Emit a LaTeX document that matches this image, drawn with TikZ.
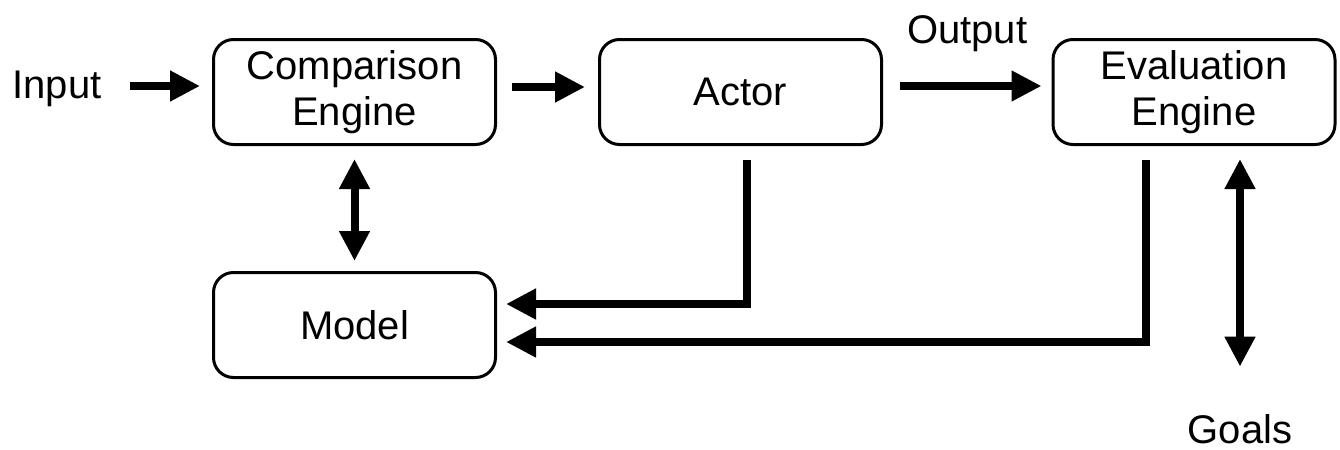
\documentclass[tikz,border=0pt]{standalone}
\usepackage{fontspec}
\setmainfont{Liberation Sans}
\usetikzlibrary{arrows.meta}
\begin{document}
\begin{tikzpicture}[x=0.5pt,y=-0.5pt,
  txt/.style={font=\fontsize{20}{23}\selectfont},
  blk/.style={txt, draw, line width=1.5pt, rounded corners=10pt,
    minimum width=141pt, minimum height=52.5pt, align=center, inner sep=0pt},
  lbl/.style={txt, inner sep=0pt},
  tip/.tip={Triangle[length=15pt,width=14.5pt]},
  conn/.style={line width=4pt, -tip},
  dconn/.style={line width=4pt, tip-tip},
]
\useasboundingbox (0,0) rectangle (1340,450);
\node[blk] (cmp) at (354.5,92) {Comparison\\Engine};
\node[blk] (actor) at (740.5,92) {Actor};
\node[blk] (eval) at (1194,92) {Evaluation\\Engine};
\node[blk] (model) at (354.5,325) {Model};
\node[lbl, anchor=base west] (input) at (12,98) {Input};
\node[lbl, anchor=base] (goals) at (1240,443) {Goals};

\draw[conn, shorten <=14pt, shorten >=6pt]
  ([yshift=3pt]input.east |- cmp.west) -- ([yshift=3pt]cmp.west);
\draw[conn, shorten <=7.5pt, shorten >=6.5pt]
  ([yshift=2.5pt]cmp.east) -- ([yshift=2.5pt]actor.west);
\draw[conn, shorten <=8.5pt, shorten >=5pt]
  ([yshift=3pt]actor.east) -- node[lbl, above=15pt] (output) {Output} ([yshift=3pt]eval.west);
\draw[dconn, shorten <=6.5pt, shorten >=5pt] (cmp.south) -- (model.north);
\draw[conn, shorten <=7pt, shorten >=4.5pt]
  ([xshift=3.25pt]actor.south) |- ([yshift=10.5pt]model.east);
\draw[conn, shorten <=7pt, shorten >=4.5pt]
  ([xshift=-24pt]eval.south) |- ([yshift=-8.5pt]model.east);
\draw[dconn, shorten <=6.5pt, shorten >=23.5pt]
  ([xshift=23pt]eval.south) -- (goals.north);
\end{tikzpicture}
\end{document}
